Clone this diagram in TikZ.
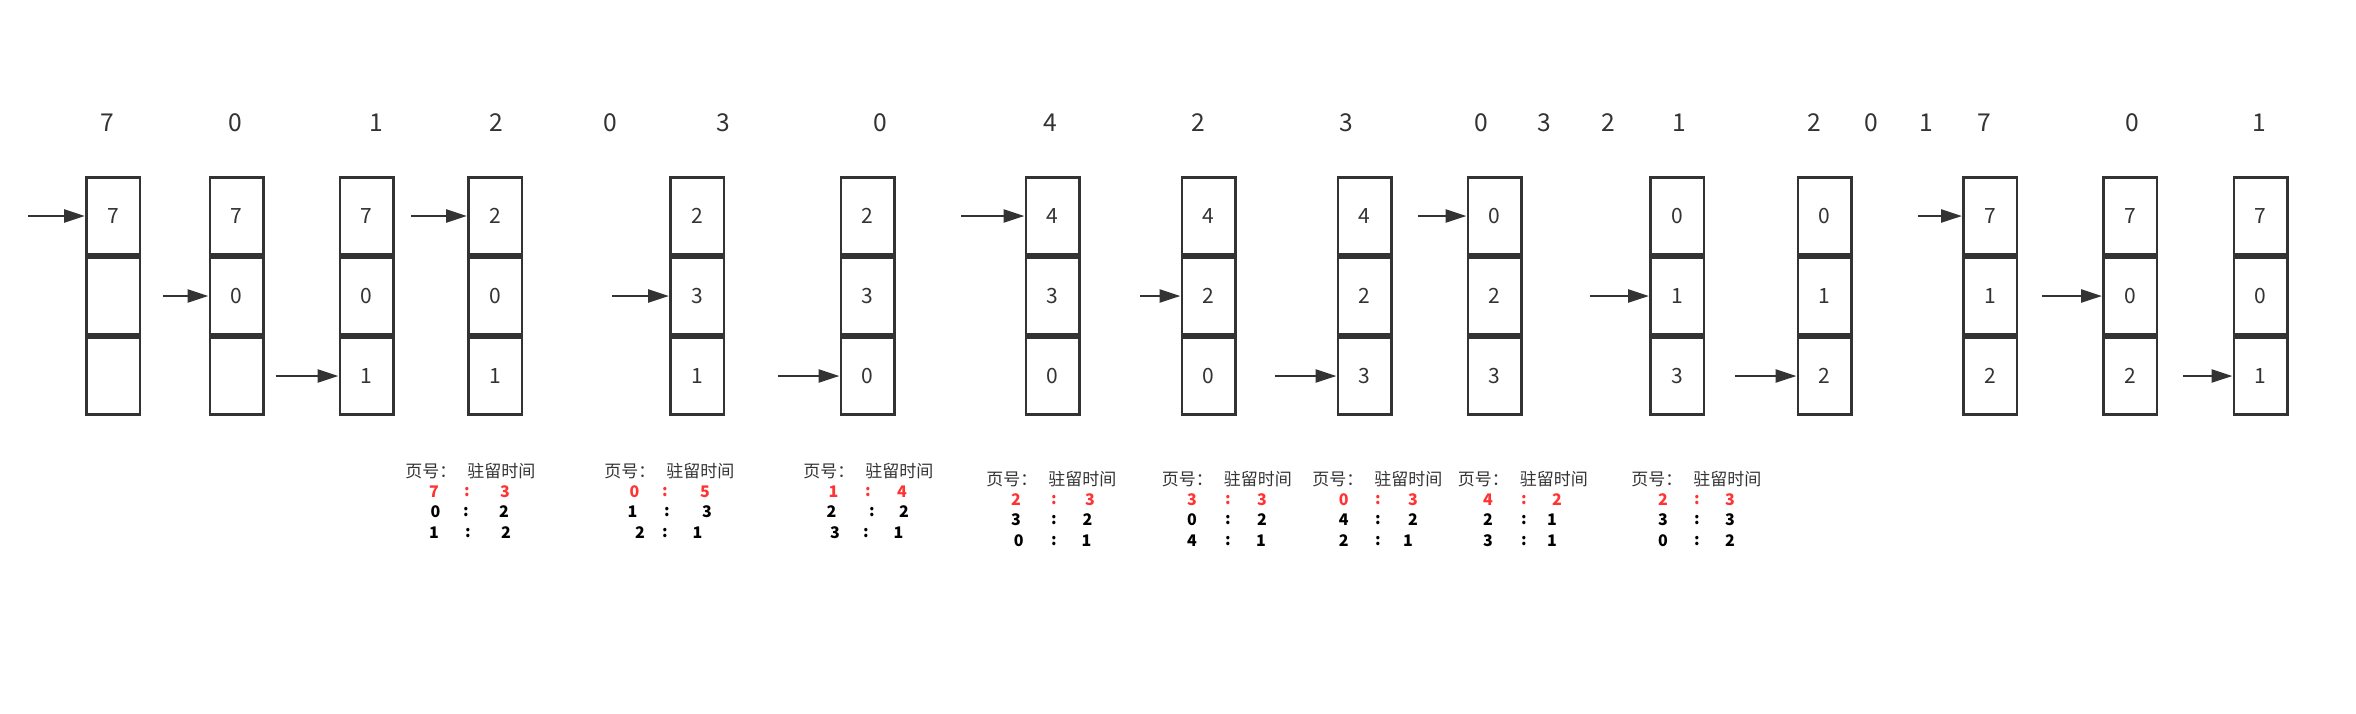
\documentclass[tikz,border=0pt]{standalone}
\usepackage{fontspec}
\setmainfont{Noto Sans CJK SC}
\usetikzlibrary{arrows.meta}
\definecolor{ink}{HTML}{333333}
\definecolor{hot}{HTML}{FF3333}
\newcommand\trow[8]{%
  \node[#8] (#1a) at (#3,#2) {#6};
  \node[#8] (#1c) at (#4,#2) {:};
  \node[#8] (#1b) at (#5,#2) {#7};}
\begin{document}
\begin{tikzpicture}[x=0.5pt,y=-0.5pt,
  cell/.style={draw=ink, line width=1.25pt, minimum width=26.75pt, minimum height=38.6pt, inner sep=0pt, text=ink, font=\fontsize{10.5}{12}\selectfont},
  lbl/.style={inner sep=0pt, text=ink, text depth=0pt, font=\fontsize{12.3}{14}\selectfont},
  ptr/.style={draw=ink, line width=1.3pt, -{Triangle[length=10.5pt,width=6.5pt]}},
  hdr/.style={anchor=west, inner sep=0pt, text=ink, font=\fontsize{8.5}{10}\selectfont},
  tnum/.style={inner sep=0pt, text depth=0pt, font=\bfseries\fontsize{8}{10}\selectfont},
  hotnum/.style={tnum, text=hot},
  coldnum/.style={tnum, text=black}]
\useasboundingbox (0,0) rectangle (2356,713);

% top reference string
\foreach \n/\x/\d in {1/107/7,2/235/0,3/376/1,4/496/2,5/610/0,6/723/3,7/880/0,8/1050/4,9/1198/2,10/1346/3,
  11/1481/0,12/1544/3,13/1608/2,14/1679/1,15/1814/2,16/1871/0,17/1926.5/1,18/1984/7,19/2132/0,20/2259.5/1}
  {\node[lbl] (s\n) at (\x,123) {\d};}

% frame columns
\foreach \i/\x/\a/\b/\c in {1/113/7/{}/{},2/236.5/7/0/{},3/366.5/7/0/1,4/495/2/0/1,5/697/2/3/1,
  6/867.5/2/3/0,7/1052.5/4/3/0,8/1208.5/4/2/0,9/1364.5/4/2/3,10/1494.5/0/2/3,
  11/1677/0/1/3,12/1824.5/0/1/2,13/1990/7/1/2,14/2130/7/0/2,15/2260.5/7/0/1}
{
  \node[cell] (b\i-1) at (\x,216) {\a};
  \node[cell] (b\i-2) at (\x,296) {\b};
  \node[cell] (b\i-3) at (\x,376) {\c};
}

% pointers
\foreach \i/\r/\t in {1/1/28,2/2/163,3/3/275.5,4/1/411,5/2/612,6/3/778,7/1/961,8/2/1140,9/3/1275,
  10/1/1418,11/2/1590,12/3/1735,13/1/1918,14/2/2042,15/3/2183}
{
  \coordinate (t\i) at (\t,{136+80*\r});
  \draw[ptr] (t\i) -- (b\i-\r.west);
}

% residence tables
\node[hdr] (h1) at (405,471) {页号：\hspace{5.5pt}驻留时间};
\trow{ta1}{491.5}{434}{467}{505}{7}{3}{hotnum}
\trow{ta2}{512}{435.5}{466}{504}{0}{2}{coldnum}
\trow{ta3}{532.5}{434}{468}{506}{1}{2}{coldnum}

\node[hdr] (h2) at (604,471) {页号：\hspace{5.5pt}驻留时间};
\trow{tb1}{491.5}{634.5}{665}{705}{0}{5}{hotnum}
\trow{tb2}{512}{632.6}{667}{707}{1}{3}{coldnum}
\trow{tb3}{532.5}{640}{665}{697.6}{2}{1}{coldnum}

\node[hdr] (h3) at (803,471) {页号：\hspace{5.5pt}驻留时间};
\trow{tc1}{491.5}{833.5}{868}{902}{1}{4}{hotnum}
\trow{tc2}{512}{831.6}{871.8}{904}{2}{2}{coldnum}
\trow{tc3}{532.5}{835}{866}{898.5}{3}{1}{coldnum}

\node[hdr] (h4) at (986,479) {页号：\hspace{5.5pt}驻留时间};
\trow{td1}{499.5}{1016}{1054}{1090}{2}{3}{hotnum}
\trow{td2}{520}{1016}{1054}{1087.5}{3}{2}{coldnum}
\trow{td3}{540.5}{1018.7}{1054}{1086.5}{0}{1}{coldnum}

\node[hdr] (h5) at (1161.5,479) {页号：\hspace{5.5pt}驻留时间};
\trow{te1}{499.5}{1192}{1228}{1262}{3}{3}{hotnum}
\trow{te2}{520}{1192}{1228}{1262}{0}{2}{coldnum}
\trow{te3}{540.5}{1192}{1228}{1261}{4}{1}{coldnum}

\node[hdr] (h6) at (1312,479) {页号：\hspace{5.5pt}驻留时间};
\trow{tf1}{499.5}{1343.7}{1378}{1413}{0}{3}{hotnum}
\trow{tf2}{520}{1343.7}{1378}{1413}{4}{2}{coldnum}
\trow{tf3}{540.5}{1343.7}{1378}{1408}{2}{1}{coldnum}

\node[hdr] (h7) at (1457.5,479) {页号：\hspace{5.5pt}驻留时间};
\trow{tg1}{499.5}{1488}{1524}{1557}{4}{2}{hotnum}
\trow{tg2}{520}{1488}{1524}{1552}{2}{1}{coldnum}
\trow{tg3}{540.5}{1488}{1524}{1552}{3}{1}{coldnum}

\node[hdr] (h8) at (1631,479) {页号：\hspace{5.5pt}驻留时间};
\trow{th1}{499.5}{1663}{1697}{1730}{2}{3}{hotnum}
\trow{th2}{520}{1663}{1697}{1730}{3}{3}{coldnum}
\trow{th3}{540.5}{1663}{1697}{1730}{0}{2}{coldnum}
\end{tikzpicture}
\end{document}
